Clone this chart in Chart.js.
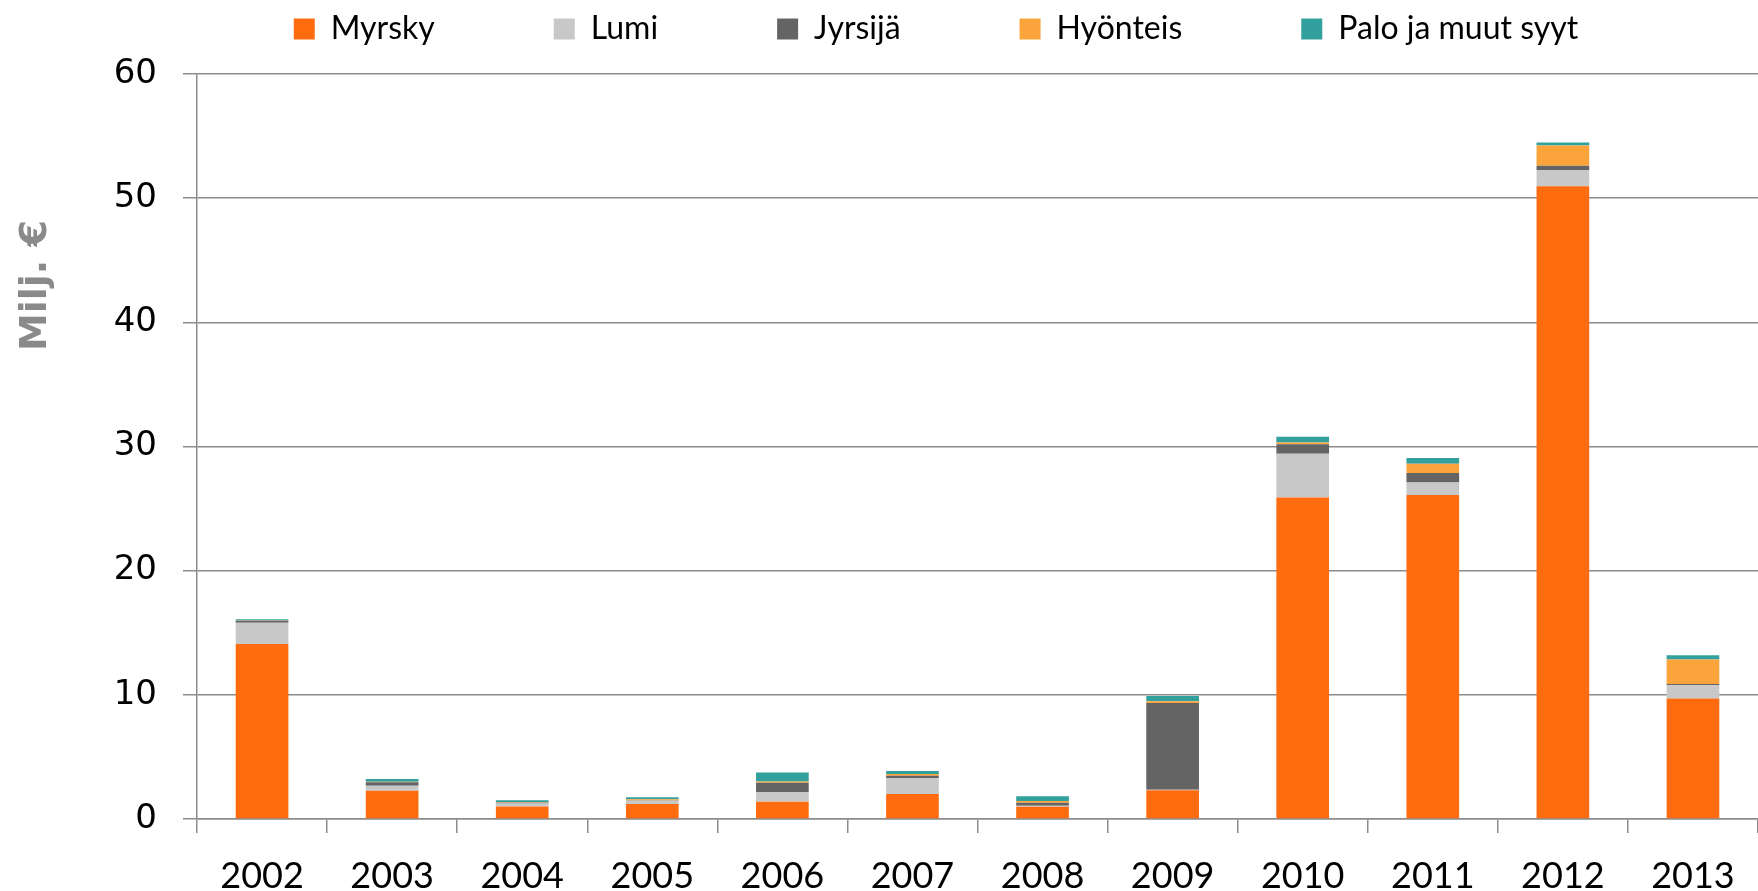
<!DOCTYPE html>
<html>
<head>
<meta charset="utf-8">
<title>Vahingot</title>
<script src="https://cdn.jsdelivr.net/npm/chart.js@4/dist/chart.umd.min.js"></script>
<style>
	html, body { margin: 0; padding: 0; background: #fff; }
	#wrap { width: 1758px; height: 891px; }
</style>
</head>
<body>
<div id="wrap"><canvas id="vahingotChart"></canvas></div>
<script>
var years = ['2002','2003','2004','2005','2006','2007','2008','2009','2010','2011','2012','2013'];
var myrsky   = [14.1, 2.28, 1.0, 1.21, 1.39, 2.01, 0.99, 2.31, 25.9, 26.09, 50.95, 9.71];
var lumi     = [1.71, 0.40, 0.25, 0.25, 0.78, 1.29, 0.08, 0.05, 3.51, 1.02, 1.31, 1.07];
var jyrsija  = [0.16, 0.27, 0.05, 0.03, 0.75, 0.19, 0.24, 6.98, 0.78, 0.75, 0.35, 0.10];
var hyonteis = [0.02, 0.05, 0.05, 0.10, 0.11, 0.13, 0.13, 0.14, 0.14, 0.76, 1.63, 1.96];
var palo     = [0.10, 0.22, 0.17, 0.16, 0.72, 0.24, 0.40, 0.43, 0.45, 0.45, 0.24, 0.35];
var yTicks   = [0, 10, 20, 30, 40, 50, 60];

(function(){
	function ready(fn){ if(document.readyState!='loading'){ fn(); } else { document.addEventListener('DOMContentLoaded', fn); } }
	ready(function(){
		var ctx = document.getElementById('vahingotChart');
		if (!ctx || !window.Chart) { return; }

		var gridGrey = '#8c8c8c';
		var legendGap = 119;

		// legend sits in a fixed 74px band, items spread wide and a bit right of centre
		var legendPlace = {
			id: 'legendPlace',
			beforeLayout: function(chart){
				var lg = chart.legend;
				if (lg && !lg._patched) {
					var fit = lg.fit;
					lg.fit = function(){ fit.call(this); this.height = 74; };
					lg._patched = true;
				}
			},
			afterLayout: function(chart){
				var lg = chart.legend;
				if (!lg) { return; }
				lg.top = 13 - legendGap; lg.bottom = 74;
				lg.left += 57; lg.right += 57;
			}
		};

		var yTitle = {
			id: 'yTitle',
			afterDraw: function(chart){
				var c = chart.ctx, a = chart.chartArea;
				c.save();
				c.translate(36, a.top + a.height * 0.284);
				c.rotate(-Math.PI / 2);
				c.font = 'bold 38px "DejaVu Sans"';
				c.fillStyle = '#8a8a8a';
				c.textAlign = 'center';
				c.textBaseline = 'middle';
				c.fillText('Milj. \u20ac', 0, 0);
				c.restore();
			}
		};

		function ds(label, data, color){
			return { label: label, data: data, backgroundColor: color, borderWidth: 0,
				categoryPercentage: 1, barPercentage: 0.405 };
		}

		new Chart(ctx, {
			type: 'bar',
			data: {
				labels: years,
				datasets: [
					ds('Myrsky', myrsky, '#ff6c10'),
					ds('Lumi', lumi, '#c8c8c8'),
					ds('Jyrsijä', jyrsija, '#646464'),
					ds('Hyönteis', hyonteis, '#fca43c'),
					ds('Palo ja muut syyt', palo, '#32a09d')
				]
			},
			options: {
				responsive: true,
				maintainAspectRatio: false,
				animation: false,
				layout: { padding: 0 },
				plugins: {
					legend: {
						position: 'top',
						labels: {
							boxWidth: 21, boxHeight: 21, padding: legendGap, color: '#000',
							font: { family: 'Lato', size: 32 }
						}
					},
					tooltip: { enabled: false }
				},
				scales: {
					x: {
						stacked: true,
						offset: true,
						grid: { offset: true, drawOnChartArea: false, drawTicks: true, tickLength: 14, color: gridGrey, lineWidth: 1.5 },
						border: { display: true, color: gridGrey, width: 1.5 },
						ticks: { color: '#000', padding: 22, maxRotation: 0, font: { family: 'Lato', size: 36 } },
						afterFit: function(s){ s.height = 72; }
					},
					y: {
						stacked: true,
						min: yTicks[0], max: yTicks[yTicks.length - 1],
						afterBuildTicks: function(s){ s.ticks = yTicks.map(function(v){ return { value: v }; }); },
						grid: { color: gridGrey, lineWidth: 1.5, tickLength: 14 },
						border: { display: true, color: gridGrey, width: 1.5 },
						ticks: { color: '#000', padding: 26, font: { family: 'DejaVu Sans', size: 34 } },
						afterFit: function(s){ s.width = 197; }
					}
				}
			},
			plugins: [legendPlace, yTitle]
		});
	});
})();
</script>
</body>
</html>
